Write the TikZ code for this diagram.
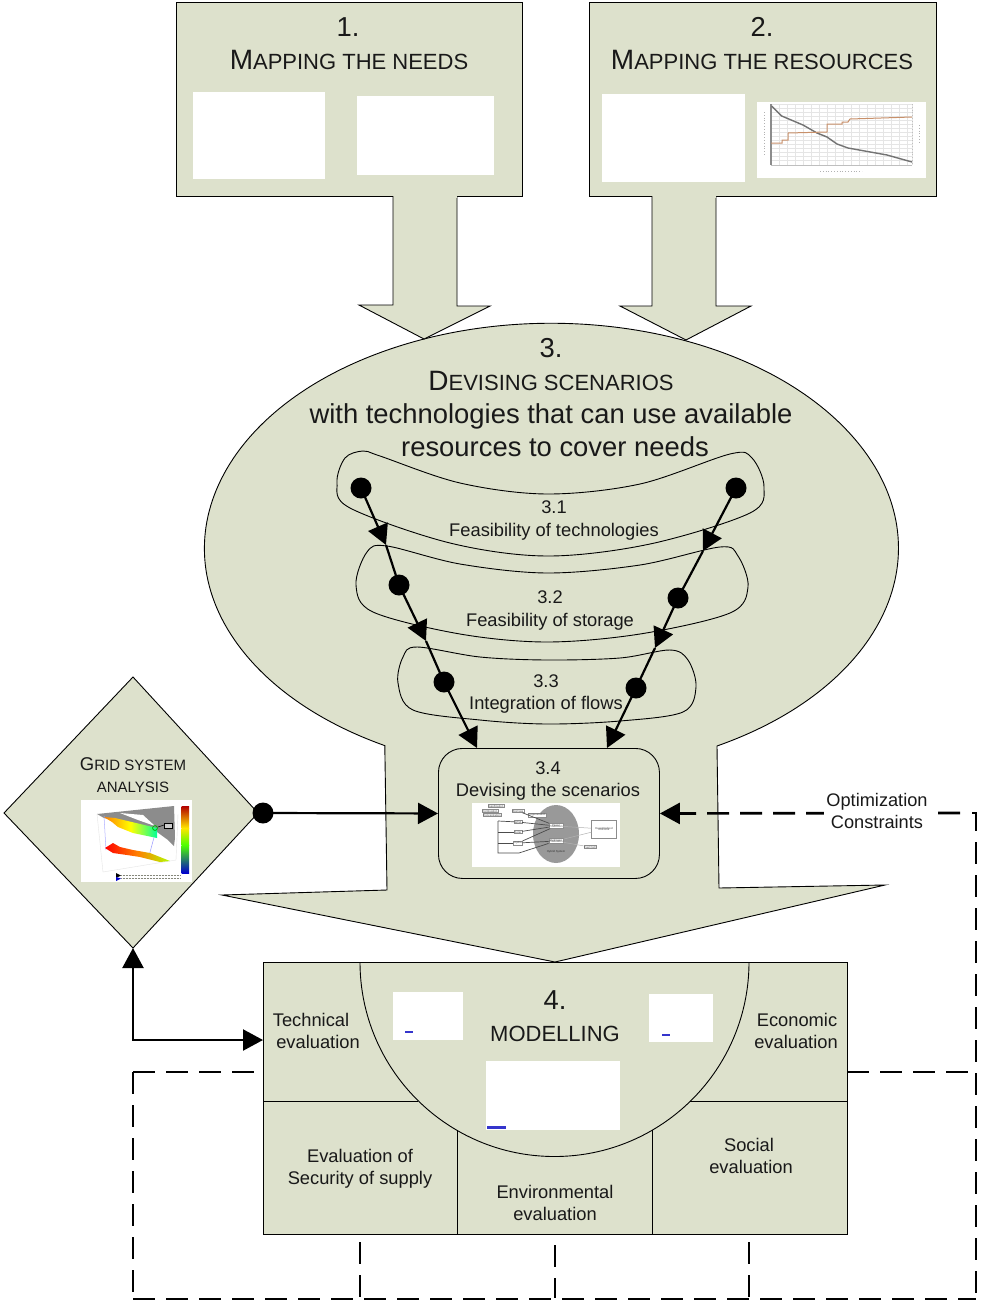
\documentclass[tikz,border=0pt]{standalone}
\usepackage{fontspec}
\setmainfont{Liberation Sans}
\usetikzlibrary{arrows.meta}
\definecolor{sage}{HTML}{DDE1CC}
\definecolor{modelblue}{HTML}{3535CC}
\definecolor{chartorange}{HTML}{C8906A}
\newcommand{\fsz}[1]{\fontsize{#1}{#1}\selectfont}
\newcommand{\smcaps}[4]{{\fsz{#1}#3}{\fsz{#2}#4}}
\tikzset{
  x=1pt,y=-1pt,
  panel/.style={draw=black,fill=sage,line width=0.9pt},
  thinline/.style={draw=black,line width=0.9pt},
  txt/.style={inner sep=0pt,align=center,text=black!90},
  imgbox/.style={fill=white,draw=none},
  dot/.style={circle,fill=black,draw=none,minimum size=21pt,inner sep=0pt},
  flow/.style={line width=2.2pt,black},
  tipped/.style={flow,-{Triangle[length=20pt,width=21pt]}},
  twotip/.style={flow,{Triangle[length=20pt,width=21pt]}-{Triangle[length=20pt,width=21pt]}},
  dashline/.style={line width=2.7pt,black,dash pattern=on 22pt off 11pt},
  minibox/.style={draw=black!45,line width=0.35pt,fill=white,inner sep=0.6pt,align=center,font=\fsz{2.8},text=black!70},
  miniline/.style={draw=black!70,line width=0.7pt}
}
\begin{document}
\begin{tikzpicture}
\useasboundingbox (0,0) rectangle (981,1302);
\fill[white] (0,0) rectangle (981,1302);

\coordinate (fbR) at (976,813);
\coordinate (fbBR) at (976,1299);
\coordinate (fbBL) at (133,1299);
\coordinate (fbTL) at (133,1072);
\coordinate (fbTR) at (976,1072);

% top blocks
\node[panel,minimum width=346pt,minimum height=194pt,inner sep=0pt,anchor=north west] (needs) at (176,2) {};
\node[panel,minimum width=347pt,minimum height=194pt,inner sep=0pt,anchor=north west] (res) at (589,2) {};

% large scenario arrow
\draw[panel] (717,746)
  arc[x radius=347,y radius=225,start angle=61.5,end angle=-241.3]
  -- (387,890) -- (222,895) -- (555,962) -- (885,885) -- (719,888) -- cycle;

% block arrows
\draw[panel] (393,196) -- (393,305) -- (359,305) -- (424,339) -- (490,306) -- (457,306) -- (457,196);
\fill[sage] (393.5,193) rectangle (456.5,198);
\draw[panel] (652,196) -- (652,306) -- (620,306) -- (686,340) -- (751,306) -- (716,306) -- (716,196);
\fill[sage] (652.5,193) rectangle (715.5,198);

% images top
\node[imgbox,minimum width=132pt,minimum height=87pt,inner sep=0pt,anchor=north west] (img1) at (193,92) {};
\node[imgbox,minimum width=137pt,minimum height=79pt,inner sep=0pt,anchor=north west] (img2) at (357,96) {};
\node[imgbox,minimum width=143pt,minimum height=88pt,inner sep=0pt,anchor=north west] (img3) at (602,94) {};
\node[imgbox,minimum width=169pt,minimum height=76pt,inner sep=0pt,anchor=north west] (chart) at (757,102) {};
% chart
\foreach \gx in {771,779,787,795,803,811,819,827,835,843,851,859,867,875,883,891,899,907,912}
  \draw[black!10,line width=0.4pt] (\gx,104) -- (\gx,165);
\foreach \gy in {104,108,112,116,120,124,128,132,136,140,144,148,152,156,160,165}
  \draw[black!10,line width=0.4pt] (771,\gy) -- (912,\gy);
\draw[black!45,line width=1.2pt] (771,104) -- (771,165);
\draw[black!25,line width=0.6pt] (771,165) -- (912,165);
\draw[black!25,line width=0.8pt,dotted] (912,104) -- (912,165);
\draw[black!30,line width=0.8pt,dotted] (764,112) -- (764,155);
\draw[black!30,line width=0.8pt,dotted] (820,171) -- (862,171);
\draw[black!30,line width=0.8pt,dotted] (919,125) -- (919,142);
\draw[black!55,line width=1.4pt] (771.7,106) -- (781.7,116) -- (803,125) -- (817,133) -- (827,137) -- (837,144) -- (848,148) -- (887,155) -- (912,162);
\draw[chartorange,line width=1pt] (771,143) -- (782,143) -- (782,140) -- (788,140) -- (788,133) -- (827,132) -- (827,124) -- (842,124) -- (842,122) -- (848,122) -- (850,119) -- (912,117);

% 3.x blobs
\draw[thinline] plot[smooth cycle,tension=0.55] coordinates {(363,451) (380,456) (460,483) (547,494) (640,484) (730,454) (752,458) (764,487) (750,513) (650,544) (547,556) (450,543) (350,508) (337,483) (345,458)};
\draw[thinline] plot[smooth cycle,tension=0.55] coordinates {(387,546) (460,564) (547,573) (640,565) (720,547) (738,556) (748,587) (730,613) (640,634) (547,642) (460,634) (373,612) (356,585) (367,552)};
\draw[thinline] plot[smooth cycle,tension=0.55] coordinates {(417,647) (480,657) (547,660) (620,658) (670,650) (688,660) (696,687) (683,712) (620,721) (547,724) (480,720) (413,710) (398,683) (403,657)};

% 3.4 box
\node[panel,rounded corners=24pt,minimum width=221pt,minimum height=130pt,inner sep=0pt,anchor=north west] (scen) at (438,748) {};

% scenario image
\node[imgbox,minimum width=148pt,minimum height=64pt,inner sep=0pt,anchor=north west] (img34) at (472,803) {};
\fill[black!40] (556,834) ellipse[x radius=23,y radius=29];
\node[inner sep=0pt,font=\fsz{2.8},text=black!80] (hybrid) at (556,852) {Hybrid System};
\node[minibox] (power) at (556,826) {Power\\[-1pt]Production};
\node[minibox] (hydrogen) at (556,841) {Hydrogen\\[-1pt]Production};
\node[minibox] (biomass) at (518,811) {Biomass};
\node[minibox] (wind) at (518,822) {Wind};
\node[minibox] (solar) at (518,832) {Solar};
\node[minibox] (hydro) at (518,843) {Hydro};
\node[minibox] (gasif) at (496,806) {Gasification};
\node[minibox] (comb) at (490,811) {Combustion};
\node[minibox] (conc) at (492,815) {Concentration};
\node[minibox] (cogen) at (537,815) {Cogeneration};
\node[minibox,minimum width=25pt,minimum height=18pt] (enduse) at (604,829) {Decentralized\\[-1pt]End-Use};
\node[minibox] (fuelcell) at (590,847) {Fuel Cell};
\coordinate (busT) at (498,821);
\coordinate (busB) at (498,853);
\coordinate (busM) at (519,853);
\draw[miniline] (busT) -- (busB) -- (busM) -- (hydrogen);
\draw[miniline] (biomass) -- (power);
\draw[miniline] (wind) -- (power);
\draw[miniline] (solar) -- (power);
\draw[miniline] (hydro) -- (power);
\draw[miniline] (hydro) -- (hydrogen);
\draw[miniline] (busT) -- (wind);
\draw[miniline] (498,832) -- (solar);
\draw[miniline] (498,843) -- (hydro);
\draw[black!30,line width=0.5pt] (power) -- (enduse);
\draw[black!30,line width=0.5pt] (hydrogen) -- (enduse);
\draw[black!30,line width=0.5pt] (hydrogen) -- (fuelcell);

% diamond
\draw[panel] (133,677) coordinate (dT) -- (258,813) coordinate (dR) -- (133,948) coordinate (dB) -- (4,813) coordinate (dL) -- cycle;
% grid image
\node[imgbox,minimum width=111pt,minimum height=82pt,inner sep=0pt,anchor=north west] (gridimg) at (81,800) {};
\fill[black!45] (174,806) -- (97,814) -- (104,818) -- (157,832) -- (168,840) -- (174,846) -- (175,838) -- cycle;
\fill[white] (120,813) -- (143,815) -- (155,826) -- (138,820) -- cycle;
\draw[black!10,line width=0.4pt] (97,814) -- (103,872) -- (176,860) -- (178,814);
\draw[blue!30,line width=0.5pt] (104,816) -- (106,850);
\draw[blue!40,line width=0.5pt] (156,830) -- (149,856);
\shade[left color=orange,right color=cyan!60!green,middle color=yellow] (104,817) -- (115,818) -- (157,828) -- (157,838) -- (133,833) -- (118,827) -- (112,822) -- cycle;
\shade[left color=red,right color=yellow!70!green,middle color=orange] (105,848) -- (113,843) -- (120,847) -- (133,850) -- (150,853) -- (170,861) -- (160,862) -- (140,857) -- (127,855) -- (113,853) -- cycle;
\draw[green!70!black,line width=0.8pt] (155,828) circle[radius=2.4];
\draw[black,line width=0.7pt,fill=black!20] (164,823) rectangle (172,828);
\draw[black,line width=0.5pt] (158,827) -- (164,825);
\shade[top color=red!70!black,bottom color=yellow!80!orange] (181.7,806) rectangle (189,828);
\shade[top color=yellow!80!orange,bottom color=green!70!yellow] (181.7,828) rectangle (189,845);
\shade[top color=green!70!yellow,bottom color=blue!80!black] (181.7,845) rectangle (189,873);
\fill[black] (116,873) -- (121,875.5) -- (116,878) -- cycle;
\fill[blue!80!black] (116,877) -- (121,878.5) -- (116,881) -- cycle;
\draw[sage!60!black,line width=0.5pt,densely dotted] (121,875) -- (181,875);
\draw[sage!60!black,line width=0.5pt,densely dotted] (121,878) -- (181,878);

% modelling block
\node[panel,minimum width=584pt,minimum height=272pt,inner sep=0pt,anchor=north west] (model) at (263,962) {};
\coordinate (lineL) at (263,1101);
\coordinate (lineR) at (847,1101);
\draw[thinline] (lineL) -- (418,1101);
\draw[thinline] (690,1101) -- (lineR);
\draw[thinline] (457.5,1130) -- (457.5,1234);
\draw[thinline] (652,1130) -- (652,1234);
\draw[thinline] (360,962) arc[start angle=180,end angle=0,x radius=194.5,y radius=194.5];
\node[imgbox,minimum width=70pt,minimum height=48pt,inner sep=0pt,anchor=north west] (img4a) at (393,992) {};
\fill[modelblue] (405,1031) rectangle (413,1033);
\node[imgbox,minimum width=64pt,minimum height=48pt,inner sep=0pt,anchor=north west] (img4b) at (649,994) {};
\fill[modelblue] (662,1034) rectangle (670,1036);
\node[imgbox,minimum width=134pt,minimum height=69pt,inner sep=0pt,anchor=north west] (img4c) at (486,1061) {};
\fill[modelblue] (487,1125.5) rectangle (506,1128.5);

% dots
\node[dot] (a1) at (361,488) {};
\node[dot] (a2) at (399,585) {};
\node[dot] (a3) at (444,682) {};
\node[dot] (b1) at (736,488) {};
\node[dot] (b2) at (678,598) {};
\node[dot] (b3) at (636,688) {};
\node[dot] (grid) at (263,813) {};

\coordinate (ta1) at (386,545);
\coordinate (ta2) at (426,641);
\coordinate (ta3) at (477,748);
\coordinate (tb1) at (703,551);
\coordinate (tb2) at (655,648);
\coordinate (tb3) at (607,748);
\draw[tipped] (a1.center) -- (ta1);
\draw[flow] (ta1) -- (a2.center);
\draw[tipped] (a2.center) -- (ta2);
\draw[flow] (ta2) -- (a3.center);
\draw[tipped] (a3.center) -- (ta3);
\draw[tipped] (b1.center) -- (tb1);
\draw[flow] (tb1) -- (b2.center);
\draw[tipped] (b2.center) -- (tb2);
\draw[flow] (tb2) -- (b3.center);
\draw[tipped] (b3.center) -- (tb3);
\draw[tipped] (grid.center) -- (scen.west);
\draw[twotip] (dB) -- (133,1040) -- (model.west |- 0,1040);

% dashed lines
\draw[dashline] (847,1072) -- (fbTR);
\draw[dashline] (fbTL) -- (fbBL);
\draw[dashline] (fbTL) -- (263,1072);
\draw[dashline] (fbBL) -- (fbBR);
\coordinate (v1) at (360,1242);
\coordinate (v2) at (555,1245);
\coordinate (v3) at (749,1242);
\draw[dashline] (v1) -- (360,1298);
\draw[dashline] (v2) -- (555,1298);
\draw[dashline] (v3) -- (749,1298);
\coordinate (fbC) at (972,813);
\coordinate (fbA) at (960,813);
\draw[dashline] (fbC) -- (fbR) -- (fbBR);
\draw[dashline,-{Triangle[length=20pt,width=21pt]}] (fbA) -- (scen.east);

% texts
\node[txt,font=\fsz{27.4}] (t1) at (348,27) {1.};
\node[txt] (t1b) at (349,60) {\smcaps{28}{22}{M}{APPING THE NEEDS}};
\node[txt,font=\fsz{27.4}] (t2) at (762,27) {2.};
\node[txt] (t2b) at (762,60) {\smcaps{28}{22}{M}{APPING THE RESOURCES}};
\node[txt,font=\fsz{27.4}] (t3) at (551,348) {3.};
\node[txt] (t3b) at (551,381) {\smcaps{28}{22}{D}{EVISING SCENARIOS}};
\node[txt,font=\fsz{27.4}] (t3c) at (551,416) {with technologies that can use available};
\node[txt,font=\fsz{27.4}] (t3d) at (555,447) {resources to cover needs};
\node[txt,font=\fsz{18.3}] (t31) at (554,507) {3.1};
\node[txt,font=\fsz{18.3}] (t31b) at (554,532) {Feasibility of technologies};
\node[txt,font=\fsz{18.3}] (t32) at (550,597) {3.2};
\node[txt,font=\fsz{18.3}] (t32b) at (550,622) {Feasibility of storage};
\node[txt,font=\fsz{18.3}] (t33) at (546,681) {3.3};
\node[txt,font=\fsz{18.3}] (t33b) at (546,705) {Integration of flows};
\node[txt,font=\fsz{18.3}] (t34) at (548,768) {3.4};
\node[txt,font=\fsz{18.3}] (t34b) at (548,792) {Devising the scenarios};
\node[txt] (tg) at (133,764) {\smcaps{18.5}{15}{G}{RID SYSTEM}};
\node[txt,font=\fsz{15}] (tg2) at (133,787) {ANALYSIS};
\node[txt,font=\fsz{18.2},fill=white,inner xsep=2pt,inner ysep=0pt] (topt) at (877,811) {Optimization\\[4pt]Constraints};
\node[txt,font=\fsz{27.4}] (t4) at (555,1000) {4.};
\node[txt,font=\fsz{22}] (t4b) at (555,1034) {MODELLING};
\node[txt,font=\fsz{18.3}] (e1) at (311,1020) {Technical};
\node[txt,font=\fsz{18.3}] (e1b) at (318,1042) {evaluation};
\node[txt,font=\fsz{18.3}] (e2) at (797,1020) {Economic};
\node[txt,font=\fsz{18.3}] (e2b) at (796,1042) {evaluation};
\node[txt,font=\fsz{18.3}] (e3) at (360,1156) {Evaluation of};
\node[txt,font=\fsz{18.3}] (e3b) at (360,1180) {Security of supply};
\node[txt,font=\fsz{18.3}] (e4) at (749,1145) {Social};
\node[txt,font=\fsz{18.3}] (e4b) at (751,1167) {evaluation};
\node[txt,font=\fsz{18.3}] (e5) at (555,1192) {Environmental};
\node[txt,font=\fsz{18.3}] (e5b) at (555,1214) {evaluation};
\end{tikzpicture}
\end{document}
